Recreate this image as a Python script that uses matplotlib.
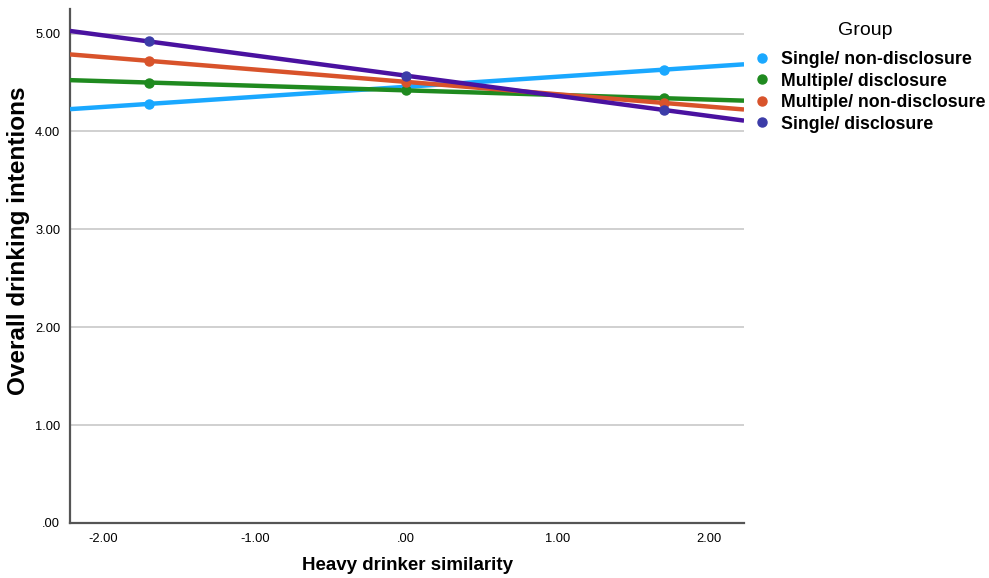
import matplotlib
matplotlib.use('Agg')
import matplotlib.pyplot as plt
from matplotlib.lines import Line2D
import numpy as np

plt.rcParams['font.family'] = ['Liberation Sans', 'DejaVu Sans']

# points at -1 SD, mean, +1 SD of heavy drinker similarity
sim_x = [-1.7, 0.0, 1.7]
groups = ['Single/ non-disclosure', 'Multiple/ disclosure',
          'Multiple/ non-disclosure', 'Single/ disclosure']
means = {
    'Single/ non-disclosure': [4.28, 4.46, 4.63],
    'Multiple/ disclosure': [4.50, 4.42, 4.34],
    'Multiple/ non-disclosure': [4.72, 4.51, 4.29],
    'Single/ disclosure': [4.92, 4.57, 4.22],
}
line_colors = ['#1aa8ff', '#1f8a1f', '#d8532b', '#4a12a0']
dot_colors = ['#1aa8ff', '#1f8a1f', '#d8532b', '#3c3ca8']

x_ticks = [-2, -1, 0, 1, 2]
x_labels = ['-2.00', '-1.00', '.00', '1.00', '2.00']
y_ticks = [0, 1, 2, 3, 4, 5]
y_labels = ['.00', '1.00', '2.00', '3.00', '4.00', '5.00']

XLIM = (-2.22, 2.23)
YLIM = (0, 5.25)

fig = plt.figure(figsize=(9.89, 5.78), dpi=100)
ax = fig.add_axes([0.0708, 0.0952, 0.6815, 0.889])

xs = np.array(XLIM)
for g, lc, dc in zip(groups, line_colors, dot_colors):
    k, b = np.polyfit(sim_x, means[g], 1)
    ax.plot(xs, k * xs + b, color=lc, lw=3.2, solid_capstyle='butt', zorder=3)
    ax.plot(sim_x, means[g], 'o', color=dc, markersize=6.5, zorder=4)

ax.set_xlim(*XLIM)
ax.set_ylim(*YLIM)
ax.set_xticks(x_ticks)
ax.set_xticklabels(x_labels)
ax.set_yticks(y_ticks)
ax.set_yticklabels(y_labels)
ax.tick_params(length=0, labelsize=9.3, pad=7)
ax.grid(axis='y', color='#c8c8c8', lw=1.2)
ax.set_axisbelow(True)
for s in ['top', 'right']:
    ax.spines[s].set_visible(False)
for s in ['left', 'bottom']:
    ax.spines[s].set_color('#555555')
    ax.spines[s].set_linewidth(1.6)

ax.set_xlabel('Heavy drinker similarity', fontsize=13.5, fontweight='bold', labelpad=9)
ax.set_ylabel('Overall drinking intentions', fontsize=17.5, fontweight='bold')
ax.yaxis.set_label_coords(-0.060, 0.55)

handles = [Line2D([], [], marker='o', ls='', color=c, markersize=6.5) for c in dot_colors]
fig.text(0.875, 0.948, 'Group', fontsize=14, ha='center', va='center')
leg = fig.legend(handles, groups, loc='upper left', bbox_to_anchor=(0.744, 0.939),
                 frameon=False, handletextpad=0.55, labelspacing=0.25,
                 prop={'weight': 'bold', 'size': 12.8}, handlelength=1.1)
plt.savefig('out.png', dpi=100)
